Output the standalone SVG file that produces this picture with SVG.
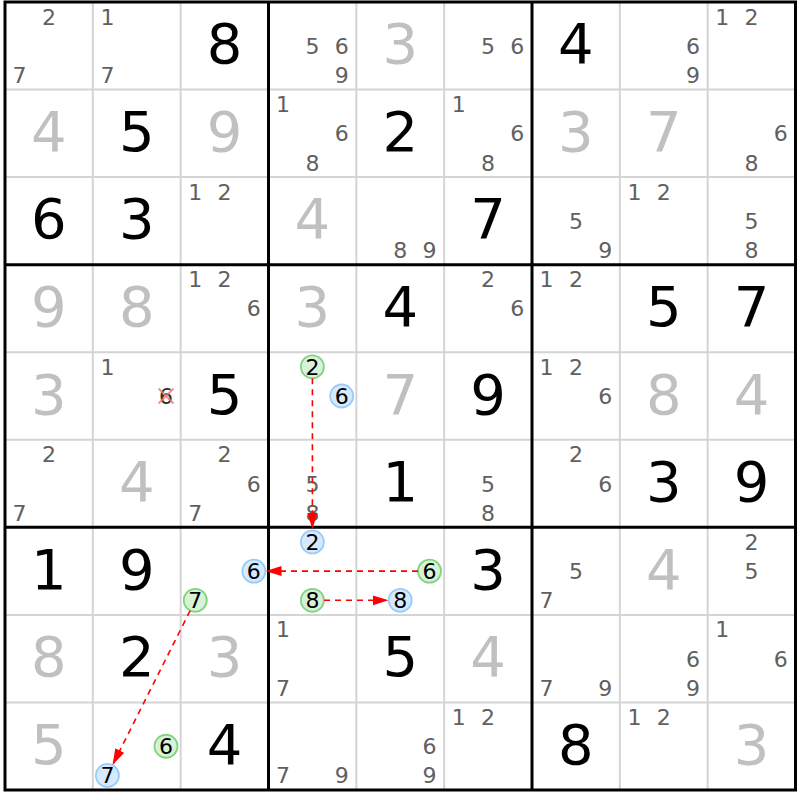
<svg xmlns="http://www.w3.org/2000/svg" width="800" height="800" viewBox="0 0 800 800">
<style>
text{font-family:"DejaVu Sans","Liberation Sans",sans-serif;text-anchor:middle}
.g{font-size:56px;fill:#000}
.s{font-size:56px;fill:#c0c0c0}
.c{font-size:22px;fill:#606060}
.h{font-size:22px;fill:#000}
.thin{stroke:#d4d4d4;stroke-width:2}
.thick{stroke:#000;stroke-width:3}
.gc{fill:#d8f2d8;stroke:#80d480;stroke-width:1.8}
.bc{fill:#d6eaff;stroke:#99ccf8;stroke-width:1.8}
.arr{stroke:#ff0000;stroke-width:1.6;stroke-dasharray:6,5;fill:none;marker-end:url(#ah)}
.x{stroke:#f07878;stroke-width:2;opacity:0.8}
</style>
<defs>
<marker id="ah" markerUnits="userSpaceOnUse" markerWidth="16" markerHeight="11" refX="16" refY="5.5" orient="auto">
<path d="M0,0.5 L16,5.5 L0,10.5 z" fill="#ff0000"/>
</marker>
</defs>
<rect x="0" y="0" width="800" height="800" fill="#fff"/>
<g id="grid-thin">
<line class="thin" x1="92.83" y1="2" x2="92.83" y2="790"/>
<line class="thin" x1="180.67" y1="2" x2="180.67" y2="790"/>
<line class="thin" x1="356.33" y1="2" x2="356.33" y2="790"/>
<line class="thin" x1="444.17" y1="2" x2="444.17" y2="790"/>
<line class="thin" x1="619.83" y1="2" x2="619.83" y2="790"/>
<line class="thin" x1="707.67" y1="2" x2="707.67" y2="790"/>
<line class="thin" x1="5" y1="89.56" x2="795.5" y2="89.56"/>
<line class="thin" x1="5" y1="177.11" x2="795.5" y2="177.11"/>
<line class="thin" x1="5" y1="352.22" x2="795.5" y2="352.22"/>
<line class="thin" x1="5" y1="439.78" x2="795.5" y2="439.78"/>
<line class="thin" x1="5" y1="614.89" x2="795.5" y2="614.89"/>
<line class="thin" x1="5" y1="702.44" x2="795.5" y2="702.44"/>
</g>
<g id="grid-thick">
<line class="thick" x1="268.5" y1="2" x2="268.5" y2="790"/>
<line class="thick" x1="532" y1="2" x2="532" y2="790"/>
<line class="thick" x1="5" y1="264.67" x2="795.5" y2="264.67"/>
<line class="thick" x1="5" y1="527.33" x2="795.5" y2="527.33"/>
<rect class="thick" x="5" y="2" width="790.5" height="788" fill="none"/>
</g>
<!-- row 0 -->
<g id="r0c0" transform="translate(5,2)"><text class="c" x="43.9" y="22.6">2</text><text class="c" x="14.6" y="81">7</text></g>
<g id="r0c1" transform="translate(92.83,2)"><text class="c" x="14.6" y="22.6">1</text><text class="c" x="14.6" y="81">7</text></g>
<g id="r0c2" transform="translate(180.67,2)"><text class="g" x="43.9" y="61.3">8</text></g>
<g id="r0c3" transform="translate(268.5,2)"><text class="c" x="43.9" y="51.8">5</text><text class="c" x="73.2" y="51.8">6</text><text class="c" x="73.2" y="81">9</text></g>
<g id="r0c4" transform="translate(356.33,2)"><text class="s" x="43.9" y="61.3">3</text></g>
<g id="r0c5" transform="translate(444.17,2)"><text class="c" x="43.9" y="51.8">5</text><text class="c" x="73.2" y="51.8">6</text></g>
<g id="r0c6" transform="translate(532,2)"><text class="g" x="43.9" y="61.3">4</text></g>
<g id="r0c7" transform="translate(619.83,2)"><text class="c" x="73.2" y="51.8">6</text><text class="c" x="73.2" y="81">9</text></g>
<g id="r0c8" transform="translate(707.67,2)"><text class="c" x="14.6" y="22.6">1</text><text class="c" x="43.9" y="22.6">2</text></g>
<!-- row 1 -->
<g id="r1c0" transform="translate(5,89.56)"><text class="s" x="43.9" y="61.3">4</text></g>
<g id="r1c1" transform="translate(92.83,89.56)"><text class="g" x="43.9" y="61.3">5</text></g>
<g id="r1c2" transform="translate(180.67,89.56)"><text class="s" x="43.9" y="61.3">9</text></g>
<g id="r1c3" transform="translate(268.5,89.56)"><text class="c" x="14.6" y="22.6">1</text><text class="c" x="73.2" y="51.8">6</text><text class="c" x="43.9" y="81">8</text></g>
<g id="r1c4" transform="translate(356.33,89.56)"><text class="g" x="43.9" y="61.3">2</text></g>
<g id="r1c5" transform="translate(444.17,89.56)"><text class="c" x="14.6" y="22.6">1</text><text class="c" x="73.2" y="51.8">6</text><text class="c" x="43.9" y="81">8</text></g>
<g id="r1c6" transform="translate(532,89.56)"><text class="s" x="43.9" y="61.3">3</text></g>
<g id="r1c7" transform="translate(619.83,89.56)"><text class="s" x="43.9" y="61.3">7</text></g>
<g id="r1c8" transform="translate(707.67,89.56)"><text class="c" x="73.2" y="51.8">6</text><text class="c" x="43.9" y="81">8</text></g>
<!-- row 2 -->
<g id="r2c0" transform="translate(5,177.11)"><text class="g" x="43.9" y="61.3">6</text></g>
<g id="r2c1" transform="translate(92.83,177.11)"><text class="g" x="43.9" y="61.3">3</text></g>
<g id="r2c2" transform="translate(180.67,177.11)"><text class="c" x="14.6" y="22.6">1</text><text class="c" x="43.9" y="22.6">2</text></g>
<g id="r2c3" transform="translate(268.5,177.11)"><text class="s" x="43.9" y="61.3">4</text></g>
<g id="r2c4" transform="translate(356.33,177.11)"><text class="c" x="43.9" y="81">8</text><text class="c" x="73.2" y="81">9</text></g>
<g id="r2c5" transform="translate(444.17,177.11)"><text class="g" x="43.9" y="61.3">7</text></g>
<g id="r2c6" transform="translate(532,177.11)"><text class="c" x="43.9" y="51.8">5</text><text class="c" x="73.2" y="81">9</text></g>
<g id="r2c7" transform="translate(619.83,177.11)"><text class="c" x="14.6" y="22.6">1</text><text class="c" x="43.9" y="22.6">2</text></g>
<g id="r2c8" transform="translate(707.67,177.11)"><text class="c" x="43.9" y="51.8">5</text><text class="c" x="43.9" y="81">8</text></g>
<!-- row 3 -->
<g id="r3c0" transform="translate(5,264.67)"><text class="s" x="43.9" y="61.3">9</text></g>
<g id="r3c1" transform="translate(92.83,264.67)"><text class="s" x="43.9" y="61.3">8</text></g>
<g id="r3c2" transform="translate(180.67,264.67)"><text class="c" x="14.6" y="22.6">1</text><text class="c" x="43.9" y="22.6">2</text><text class="c" x="73.2" y="51.8">6</text></g>
<g id="r3c3" transform="translate(268.5,264.67)"><text class="s" x="43.9" y="61.3">3</text></g>
<g id="r3c4" transform="translate(356.33,264.67)"><text class="g" x="43.9" y="61.3">4</text></g>
<g id="r3c5" transform="translate(444.17,264.67)"><text class="c" x="43.9" y="22.6">2</text><text class="c" x="73.2" y="51.8">6</text></g>
<g id="r3c6" transform="translate(532,264.67)"><text class="c" x="14.6" y="22.6">1</text><text class="c" x="43.9" y="22.6">2</text></g>
<g id="r3c7" transform="translate(619.83,264.67)"><text class="g" x="43.9" y="61.3">5</text></g>
<g id="r3c8" transform="translate(707.67,264.67)"><text class="g" x="43.9" y="61.3">7</text></g>
<!-- row 4 -->
<g id="r4c0" transform="translate(5,352.22)"><text class="s" x="43.9" y="61.3">3</text></g>
<g id="r4c1" transform="translate(92.83,352.22)"><text class="c" x="14.6" y="22.6">1</text><text class="c" x="73.2" y="51.8" style="fill:#303030">6</text><line class="x" x1="65.7" y1="36.3" x2="80.7" y2="51.3"/><line class="x" x1="80.7" y1="36.3" x2="65.7" y2="51.3"/></g>
<g id="r4c2" transform="translate(180.67,352.22)"><text class="g" x="43.9" y="61.3">5</text></g>
<g id="r4c3" transform="translate(268.5,352.22)"><circle class="gc" cx="43.9" cy="14.6" r="11.5"/><text class="h" x="43.9" y="22.6">2</text><circle class="bc" cx="73.2" cy="43.8" r="11.5"/><text class="h" x="73.2" y="51.8">6</text></g>
<g id="r4c4" transform="translate(356.33,352.22)"><text class="s" x="43.9" y="61.3">7</text></g>
<g id="r4c5" transform="translate(444.17,352.22)"><text class="g" x="43.9" y="61.3">9</text></g>
<g id="r4c6" transform="translate(532,352.22)"><text class="c" x="14.6" y="22.6">1</text><text class="c" x="43.9" y="22.6">2</text><text class="c" x="73.2" y="51.8">6</text></g>
<g id="r4c7" transform="translate(619.83,352.22)"><text class="s" x="43.9" y="61.3">8</text></g>
<g id="r4c8" transform="translate(707.67,352.22)"><text class="s" x="43.9" y="61.3">4</text></g>
<!-- row 5 -->
<g id="r5c0" transform="translate(5,439.78)"><text class="c" x="43.9" y="22.6">2</text><text class="c" x="14.6" y="81">7</text></g>
<g id="r5c1" transform="translate(92.83,439.78)"><text class="s" x="43.9" y="61.3">4</text></g>
<g id="r5c2" transform="translate(180.67,439.78)"><text class="c" x="43.9" y="22.6">2</text><text class="c" x="73.2" y="51.8">6</text><text class="c" x="14.6" y="81">7</text></g>
<g id="r5c3" transform="translate(268.5,439.78)"><text class="c" x="43.9" y="51.8">5</text><text class="c" x="43.9" y="81">8</text></g>
<g id="r5c4" transform="translate(356.33,439.78)"><text class="g" x="43.9" y="61.3">1</text></g>
<g id="r5c5" transform="translate(444.17,439.78)"><text class="c" x="43.9" y="51.8">5</text><text class="c" x="43.9" y="81">8</text></g>
<g id="r5c6" transform="translate(532,439.78)"><text class="c" x="43.9" y="22.6">2</text><text class="c" x="73.2" y="51.8">6</text></g>
<g id="r5c7" transform="translate(619.83,439.78)"><text class="g" x="43.9" y="61.3">3</text></g>
<g id="r5c8" transform="translate(707.67,439.78)"><text class="g" x="43.9" y="61.3">9</text></g>
<!-- row 6 -->
<g id="r6c0" transform="translate(5,527.33)"><text class="g" x="43.9" y="61.3">1</text></g>
<g id="r6c1" transform="translate(92.83,527.33)"><text class="g" x="43.9" y="61.3">9</text></g>
<g id="r6c2" transform="translate(180.67,527.33)"><circle class="bc" cx="73.2" cy="43.8" r="11.5"/><text class="h" x="73.2" y="51.8">6</text><circle class="gc" cx="14.6" cy="73" r="11.5"/><text class="h" x="14.6" y="81">7</text></g>
<g id="r6c3" transform="translate(268.5,527.33)"><circle class="bc" cx="43.9" cy="14.6" r="11.5"/><text class="h" x="43.9" y="22.6">2</text><circle class="gc" cx="43.9" cy="73" r="11.5"/><text class="h" x="43.9" y="81">8</text></g>
<g id="r6c4" transform="translate(356.33,527.33)"><circle class="gc" cx="73.2" cy="43.8" r="11.5"/><text class="h" x="73.2" y="51.8">6</text><circle class="bc" cx="43.9" cy="73" r="11.5"/><text class="h" x="43.9" y="81">8</text></g>
<g id="r6c5" transform="translate(444.17,527.33)"><text class="g" x="43.9" y="61.3">3</text></g>
<g id="r6c6" transform="translate(532,527.33)"><text class="c" x="43.9" y="51.8">5</text><text class="c" x="14.6" y="81">7</text></g>
<g id="r6c7" transform="translate(619.83,527.33)"><text class="s" x="43.9" y="61.3">4</text></g>
<g id="r6c8" transform="translate(707.67,527.33)"><text class="c" x="43.9" y="22.6">2</text><text class="c" x="43.9" y="51.8">5</text></g>
<!-- row 7 -->
<g id="r7c0" transform="translate(5,614.89)"><text class="s" x="43.9" y="61.3">8</text></g>
<g id="r7c1" transform="translate(92.83,614.89)"><text class="g" x="43.9" y="61.3">2</text></g>
<g id="r7c2" transform="translate(180.67,614.89)"><text class="s" x="43.9" y="61.3">3</text></g>
<g id="r7c3" transform="translate(268.5,614.89)"><text class="c" x="14.6" y="22.6">1</text><text class="c" x="14.6" y="81">7</text></g>
<g id="r7c4" transform="translate(356.33,614.89)"><text class="g" x="43.9" y="61.3">5</text></g>
<g id="r7c5" transform="translate(444.17,614.89)"><text class="s" x="43.9" y="61.3">4</text></g>
<g id="r7c6" transform="translate(532,614.89)"><text class="c" x="14.6" y="81">7</text><text class="c" x="73.2" y="81">9</text></g>
<g id="r7c7" transform="translate(619.83,614.89)"><text class="c" x="73.2" y="51.8">6</text><text class="c" x="73.2" y="81">9</text></g>
<g id="r7c8" transform="translate(707.67,614.89)"><text class="c" x="14.6" y="22.6">1</text><text class="c" x="73.2" y="51.8">6</text></g>
<!-- row 8 -->
<g id="r8c0" transform="translate(5,702.44)"><text class="s" x="43.9" y="61.3">5</text></g>
<g id="r8c1" transform="translate(92.83,702.44)"><circle class="gc" cx="73.2" cy="43.8" r="11.5"/><text class="h" x="73.2" y="51.8">6</text><circle class="bc" cx="14.6" cy="73" r="11.5"/><text class="h" x="14.6" y="81">7</text></g>
<g id="r8c2" transform="translate(180.67,702.44)"><text class="g" x="43.9" y="61.3">4</text></g>
<g id="r8c3" transform="translate(268.5,702.44)"><text class="c" x="14.6" y="81">7</text><text class="c" x="73.2" y="81">9</text></g>
<g id="r8c4" transform="translate(356.33,702.44)"><text class="c" x="73.2" y="51.8">6</text><text class="c" x="73.2" y="81">9</text></g>
<g id="r8c5" transform="translate(444.17,702.44)"><text class="c" x="14.6" y="22.6">1</text><text class="c" x="43.9" y="22.6">2</text></g>
<g id="r8c6" transform="translate(532,702.44)"><text class="g" x="43.9" y="61.3">8</text></g>
<g id="r8c7" transform="translate(619.83,702.44)"><text class="c" x="14.6" y="22.6">1</text><text class="c" x="43.9" y="22.6">2</text></g>
<g id="r8c8" transform="translate(707.67,702.44)"><text class="s" x="43.9" y="61.3">3</text></g>
<g id="connectors">
<line class="arr" x1="312.4" y1="378.3" x2="312.4" y2="529"/>
<line class="arr" x1="418" y1="571.1" x2="265.5" y2="571.1"/>
<line class="arr" x1="324" y1="600.3" x2="388.5" y2="600.3"/>
<line class="arr" x1="190.2" y1="610.6" x2="112.6" y2="764.9"/>
</g>
</svg>
